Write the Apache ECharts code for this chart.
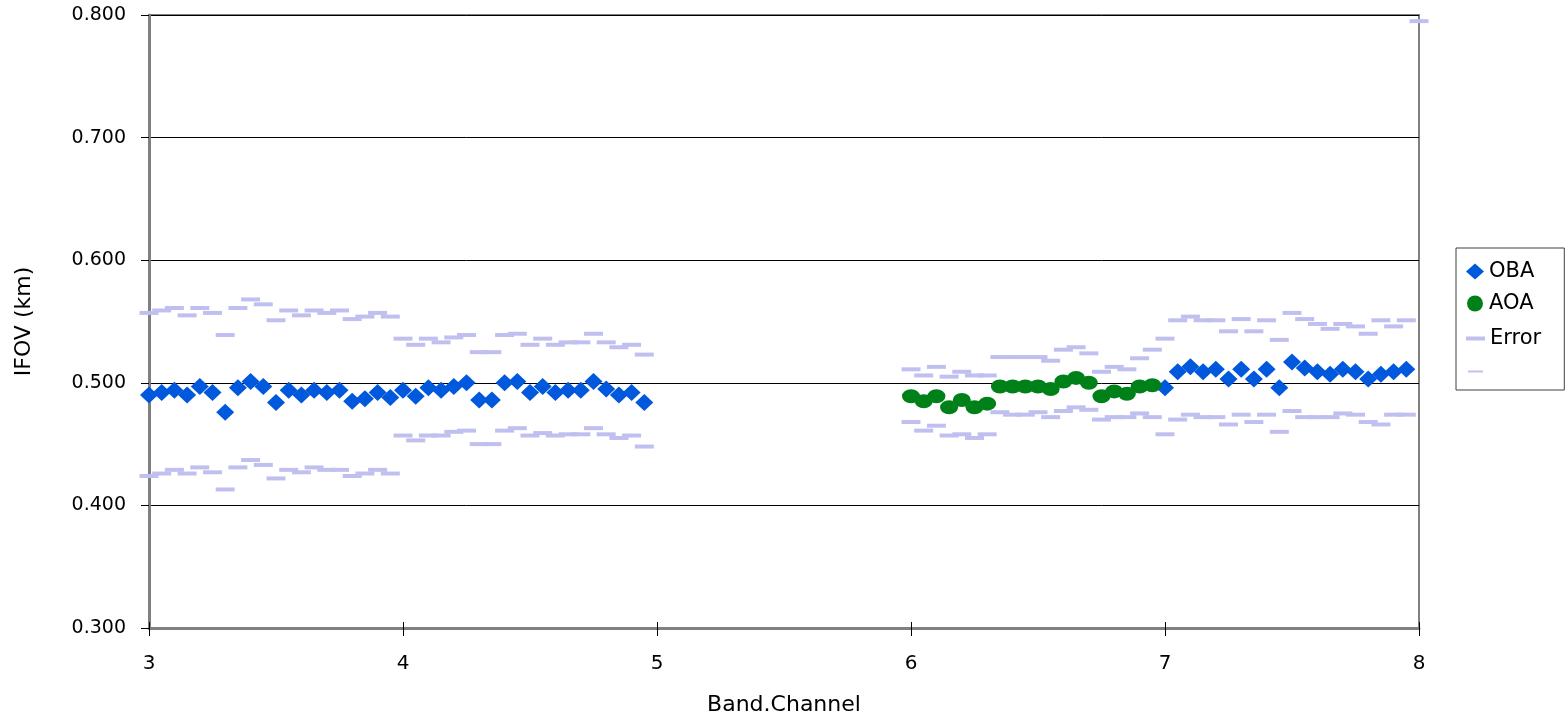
<!DOCTYPE html>
<html>
<head>
<meta charset="utf-8">
<script src="https://cdn.jsdelivr.net/npm/echarts@6/dist/echarts.min.js"></script>
<style>
html,body{margin:0;padding:0;background:#fff;}
#chart{width:1568px;height:716px;}
</style>
</head>
<body>
<div id="chart"></div>
<script>
// ---- data ----
const obaChannels = [
  3.00,3.05,3.10,3.15,3.20,3.25,3.30,3.35,3.40,3.45,3.50,3.55,3.60,3.65,3.70,3.75,3.80,3.85,3.90,3.95,
  4.00,4.05,4.10,4.15,4.20,4.25,4.30,4.35,4.40,4.45,4.50,4.55,4.60,4.65,4.70,4.75,4.80,4.85,4.90,4.95,
  7.00,7.05,7.10,7.15,7.20,7.25,7.30,7.35,7.40,7.45,7.50,7.55,7.60,7.65,7.70,7.75,7.80,7.85,7.90,7.95
];
const obaIfov = [
  0.490,0.492,0.494,0.490,0.497,0.492,0.476,0.496,0.501,0.497,0.484,0.494,0.490,0.494,0.492,0.494,0.485,0.487,0.492,0.488,
  0.494,0.489,0.496,0.494,0.497,0.500,0.486,0.486,0.500,0.501,0.492,0.497,0.492,0.494,0.494,0.501,0.495,0.490,0.492,0.484,
  0.496,0.509,0.513,0.509,0.511,0.503,0.511,0.503,0.511,0.496,0.517,0.512,0.509,0.507,0.511,0.509,0.503,0.507,0.509,0.511
];
const aoaChannels = [
  6.00,6.05,6.10,6.15,6.20,6.25,6.30,6.35,6.40,6.45,6.50,6.55,6.60,6.65,6.70,6.75,6.80,6.85,6.90,6.95
];
const aoaIfov = [
  0.489,0.485,0.489,0.480,0.486,0.480,0.483,0.497,0.497,0.497,0.497,0.495,0.501,0.504,0.500,0.489,0.493,0.491,0.497,0.498
];
const errChannels = [
  3.00,3.05,3.10,3.15,3.20,3.25,3.30,3.35,3.40,3.45,3.50,3.55,3.60,3.65,3.70,3.75,3.80,3.85,3.90,3.95,
  4.00,4.05,4.10,4.15,4.20,4.25,4.30,4.35,4.40,4.45,4.50,4.55,4.60,4.65,4.70,4.75,4.80,4.85,4.90,4.95,
  6.00,6.05,6.10,6.15,6.20,6.25,6.30,6.35,6.40,6.45,6.50,6.55,6.60,6.65,6.70,6.75,6.80,6.85,6.90,6.95,
  7.00,7.05,7.10,7.15,7.20,7.25,7.30,7.35,7.40,7.45,7.50,7.55,7.60,7.65,7.70,7.75,7.80,7.85,7.90,7.95,
  8.00
];
const errUpper = [
  0.557,0.559,0.561,0.555,0.561,0.557,0.539,0.561,0.568,0.564,0.551,0.559,0.555,0.559,0.557,0.559,0.552,0.554,0.557,0.554,
  0.536,0.531,0.536,0.533,0.537,0.539,0.525,0.525,0.539,0.540,0.531,0.536,0.531,0.533,0.533,0.540,0.533,0.529,0.531,0.523,
  0.511,0.506,0.513,0.505,0.509,0.506,0.506,0.521,0.521,0.521,0.521,0.518,0.527,0.529,0.524,0.509,0.513,0.511,0.520,0.527,
  0.536,0.551,0.554,0.551,0.551,0.542,0.552,0.542,0.551,0.535,0.557,0.552,0.548,0.544,0.548,0.546,0.540,0.551,0.546,0.551,
  0.795
];
const errLower = [
  0.424,0.426,0.429,0.426,0.431,0.427,0.413,0.431,0.437,0.433,0.422,0.429,0.427,0.431,0.429,0.429,0.424,0.426,0.429,0.426,
  0.457,0.453,0.457,0.457,0.460,0.461,0.450,0.450,0.461,0.463,0.457,0.459,0.457,0.458,0.458,0.463,0.458,0.455,0.457,0.448,
  0.468,0.461,0.465,0.457,0.458,0.455,0.458,0.476,0.474,0.474,0.476,0.472,0.477,0.480,0.478,0.470,0.472,0.472,0.475,0.472,
  0.458,0.470,0.474,0.472,0.472,0.466,0.474,0.468,0.474,0.460,0.477,0.472,0.472,0.472,0.475,0.474,0.468,0.466,0.474,0.474
];
const yTicks = [0.3, 0.4, 0.5, 0.6, 0.7, 0.8];
const xTicks = [3, 4, 5, 6, 7, 8];

const pair = (xs, ys) => ys.map((v, i) => [xs[i], v]);

const FONT = 'DejaVu Sans';
const chart = echarts.init(document.getElementById('chart'), null, {renderer: 'canvas'});
chart.setOption({
  animation: false,
  backgroundColor: '#ffffff',
  textStyle: {fontFamily: FONT, color: '#000'},
  grid: {left: 149, right: 149, top: 15, bottom: 88, containLabel: false, outerBoundsMode: 'none',
         show: true, borderColor: '#808080', borderWidth: 2, backgroundColor: 'transparent'},
  xAxis: [{
    type: 'value', min: xTicks[0], max: xTicks[xTicks.length - 1], interval: 1,
    name: 'Band.Channel', nameLocation: 'middle', nameGap: 66,
    nameTextStyle: {fontFamily: FONT, fontSize: 22, color: '#000'},
    axisLine: {show: true, lineStyle: {color: '#808080', width: 3}},
    axisTick: {show: true, length: 8, lineStyle: {color: '#000', width: 1}},
    axisLabel: {fontFamily: FONT, fontSize: 20, color: '#000', margin: 26},
    splitLine: {show: false}
  }, {
    type: 'value', min: xTicks[0], max: xTicks[xTicks.length - 1], interval: 1, position: 'bottom',
    axisLine: {show: false},
    axisTick: {show: true, inside: true, length: 6, lineStyle: {color: '#000', width: 1}},
    axisLabel: {show: false}, splitLine: {show: false}
  }],
  yAxis: {
    type: 'value', min: yTicks[0], max: yTicks[yTicks.length - 1], interval: 0.1,
    name: 'IFOV (km)', nameLocation: 'middle', nameGap: 114, nameRotate: 90,
    nameTextStyle: {fontFamily: FONT, fontSize: 22, color: '#000'},
    axisLine: {show: true, lineStyle: {color: '#808080', width: 3}},
    axisTick: {show: true, length: 8, lineStyle: {color: '#000', width: 1}},
    axisLabel: {fontFamily: FONT, fontSize: 19, color: '#000', margin: 23, formatter: v => v.toFixed(3)},
    splitLine: {show: true, lineStyle: {color: '#000', width: 1}}
  },
  legend: [{
    orient: 'vertical', left: 1456, top: 248,
    padding: [13, 30, 76, 10], itemGap: 11, itemWidth: 18, itemHeight: 16,
    borderColor: '#404040', borderWidth: 1, backgroundColor: '#fff',
    textStyle: {fontFamily: FONT, fontSize: 21, color: '#000'},
    data: ['OBA', 'AOA']
  }, {
    orient: 'vertical', left: 1466, top: 328,
    padding: 0, itemGap: 0, itemWidth: 19, itemHeight: 4,
    textStyle: {fontFamily: FONT, fontSize: 21, color: '#000'},
    data: [{name: 'Error', icon: 'rect'}]
  }, {
    orient: 'vertical', left: 1468, top: 361,
    padding: 0, itemGap: 0, itemWidth: 15, itemHeight: 2,
    textStyle: {fontFamily: FONT, fontSize: 21, color: '#000'},
    data: [{name: ' ', icon: 'rect'}]
  }],
  series: [{
    name: 'OBA', type: 'scatter', symbol: 'diamond', symbolSize: [18, 17],
    itemStyle: {color: '#0058DD', opacity: 1}, z: 4,
    data: pair(obaChannels, obaIfov)
  }, {
    name: 'AOA', type: 'scatter', symbol: 'circle', symbolSize: [18, 14],
    itemStyle: {color: '#008018', opacity: 1}, z: 4,
    data: pair(aoaChannels, aoaIfov)
  }, {
    name: 'Error', type: 'scatter', symbol: 'rect', symbolSize: [19, 4],
    itemStyle: {color: '#C0C0F0', opacity: 1}, z: 3, clip: false,
    data: pair(errChannels, errUpper)
  }, {
    name: ' ', type: 'scatter', symbol: 'rect', symbolSize: [19, 4],
    itemStyle: {color: '#C0C0F0', opacity: 1}, z: 3,
    data: pair(errChannels, errLower)
  }]
});
</script>
</body>
</html>
